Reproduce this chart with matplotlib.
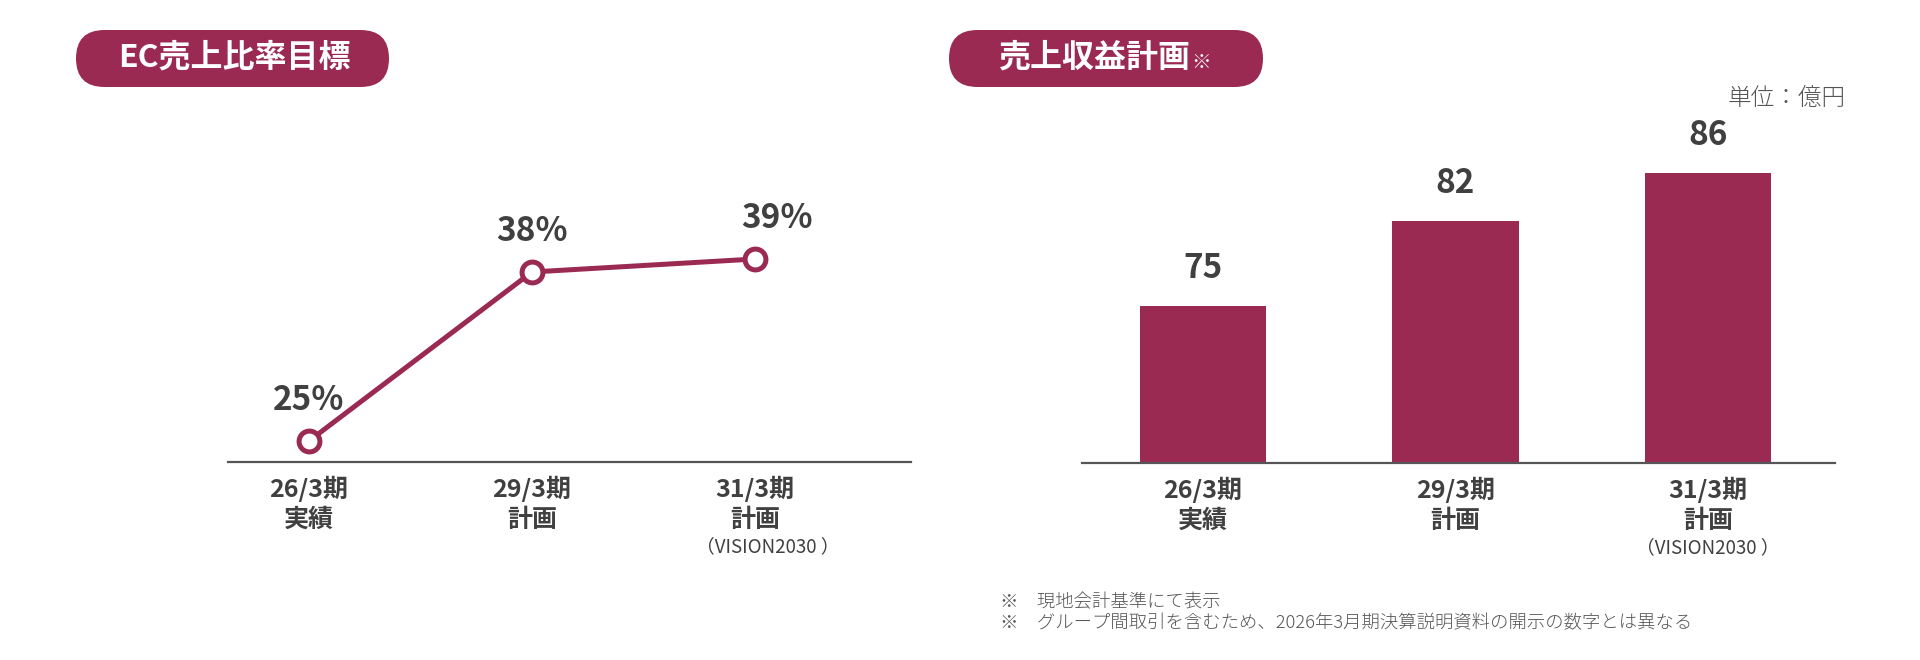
import matplotlib
matplotlib.use('Agg')
import matplotlib.pyplot as plt
from matplotlib.patches import FancyBboxPatch

plt.rcParams['font.family'] = ['Noto Sans CJK JP', 'DejaVu Sans']

# EC売上比率目標 (%)
ec_periods = ['26/3期\n実績', '29/3期\n計画', '31/3期\n計画']
ec_ratio = [25, 38, 39]

# 売上収益計画 (億円)
rev_periods = ['26/3期\n実績', '29/3期\n計画', '31/3期\n計画']
revenue = [75, 82, 86]

vision_note = '（VISION2030 ）'
notes = ['※　現地会計基準にて表示',
         '※　グループ間取引を含むため、2026年3月期決算説明資料の開示の数字とは異なる']

WINE = '#9b2a52'
INK = '#404040'
AXIS = '#555555'
W, H = 1920, 660

fig = plt.figure(figsize=(19.2, 6.6), dpi=100)


def px_axes(x0, y0, x1, y1):
    # pixel box measured from top-left -> figure fraction
    return fig.add_axes([x0 / W, 1 - y1 / H, (x1 - x0) / W, (y1 - y0) / H])


def style_axis(ax, labels):
    for s in ['top', 'right', 'left']:
        ax.spines[s].set_visible(False)
    ax.spines['bottom'].set_color(AXIS)
    ax.spines['bottom'].set_linewidth(1.6)
    ax.set_yticks([])
    ax.set_xticks(range(len(labels)))
    ax.set_xticklabels(labels, fontsize=18, fontweight='bold', color=INK,
                       linespacing=1.3)
    ax.tick_params(axis='x', length=0, pad=10)
    ax.patch.set_alpha(0)


# ---- left: line chart
ax1 = px_axes(228, 100, 911, 462)
ax1.plot(range(len(ec_ratio)), ec_ratio, color=WINE, lw=3.6, marker='o',
         ms=15, mfc='white', mec=WINE, mew=3.6, clip_on=False, zorder=3)
ax1.set_xlim(-0.363, 2.70)
ax1.set_ylim(23.385, 51.23)
style_axis(ax1, ec_periods)
label_dx = [0, 0, 16]
for i, v in enumerate(ec_ratio):
    ax1.annotate(f'{v}%', (i, v), xytext=(label_dx[i], 29),
                 textcoords='offset points', ha='center', va='center',
                 fontsize=24, fontweight='bold', color=INK)
ax1.annotate(vision_note, (2, 0), xycoords=('data', 'axes fraction'),
             xytext=(9, -61), textcoords='offset points', ha='center',
             va='center', fontsize=13.5, color=INK)

# ---- right: bar chart
ax2 = px_axes(1082, 100, 1835, 463)
bars = ax2.bar(range(len(revenue)), revenue, width=0.5, color=WINE, zorder=2)
ax2.set_xlim(-0.479, 2.503)
ax2.set_ylim(61.9, 92.1)
style_axis(ax2, rev_periods)
for i, v in enumerate(revenue):
    ax2.annotate(f'{v}', (i, v), xytext=(0, 27), textcoords='offset points',
                 ha='center', va='center', fontsize=24, fontweight='bold',
                 color=INK)
ax2.annotate(vision_note, (2, 0), xycoords=('data', 'axes fraction'),
             xytext=(0, -61), textcoords='offset points', ha='center',
             va='center', fontsize=13.5, color=INK)

# ---- overlay in pixel units: headers, unit, notes
ov = fig.add_axes([0, 0, 1, 1])
ov.set_xlim(0, W)
ov.set_ylim(H, 0)
ov.axis('off')

for x0, w in [(76, 313), (949, 314)]:
    ov.add_patch(FancyBboxPatch((x0, 30), w, 57,
                                boxstyle='round,pad=0,rounding_size=28.5',
                                fc=WINE, ec='none'))
ov.text(234, 58, 'EC売上比率目標', color='white', fontsize=23,
        fontweight='bold', ha='center', va='center')
ov.text(1190, 58, '売上収益計画', color='white', fontsize=23,
        fontweight='bold', ha='right', va='center')
ov.text(1191, 62, '※', color='white', fontsize=14, ha='left', va='center')

ov.text(1846, 98, '単位：億円', color=AXIS, fontsize=17, ha='right',
        va='center', fontweight='light')
for k, line in enumerate(notes):
    ov.text(1000, 602 + 21 * k, line, color=AXIS, fontsize=13.2,
            ha='left', va='center', fontweight='light')

fig.savefig('out.png', dpi=100, facecolor='white')
